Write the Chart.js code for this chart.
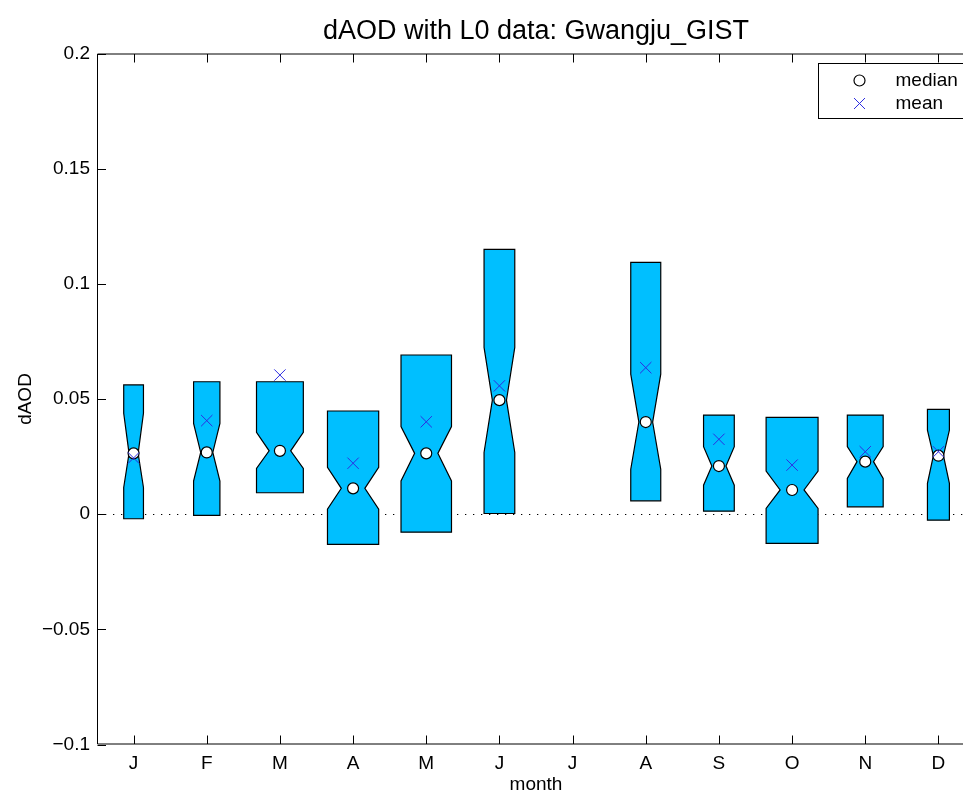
<!DOCTYPE html>
<html>
<head>
<meta charset="utf-8">
<script src="https://cdn.jsdelivr.net/npm/chart.js@4.4.0/dist/chart.umd.min.js"></script>
<style>
  html, body { margin: 0; padding: 0; background: #fff; overflow: hidden; }
  #wrap { width: 963px; height: 793px; overflow: hidden; position: relative; }
  canvas { display: block; }
</style>
</head>
<body>
<div id="wrap"><canvas id="c" width="975" height="793"></canvas></div>
<script>
// Monthly dAOD statistics (July has no data)
const months   = ['J', 'F', 'M', 'A', 'M', 'J', 'J', 'A', 'S', 'O', 'N', 'D'];
const q3       = [0.0561, 0.0575, 0.0575, 0.0448, 0.0691, 0.1150, null, 0.1093, 0.0430, 0.0420, 0.0430, 0.0455];
const q1       = [-0.0020, -0.0005, 0.0093, -0.0131, -0.0078, 0.0003, null, 0.0058, 0.0013, -0.0127, 0.0032, -0.0026];
const notchHi  = [0.0438, 0.0394, 0.0355, 0.0203, 0.0380, 0.0724, null, 0.0608, 0.0293, 0.0187, 0.0293, 0.0365];
const notchLo  = [0.0116, 0.0144, 0.0199, 0.0022, 0.0144, 0.0268, null, 0.0195, 0.0126, 0.0025, 0.0155, 0.0134];
const medians  = [0.0264, 0.0268, 0.0275, 0.0112, 0.0264, 0.0495, null, 0.0400, 0.0209, 0.0105, 0.0228, 0.0254];
const means    = [0.0244, 0.0406, 0.0604, 0.0221, 0.0401, 0.0557, null, 0.0636, 0.0325, 0.0213, 0.0271, 0.0271];
// relative box width (in month units), proportional to sample size
const boxWidth = [0.27, 0.36, 0.64, 0.70, 0.69, 0.42, null, 0.41, 0.42, 0.71, 0.49, 0.30];

const yTickValues = [-0.1, -0.05, 0, 0.05, 0.1, 0.15, 0.2];
const yTickLabels = ['\u22120.1', '\u22120.05', '0', '0.05', '0.1', '0.15', '0.2'];

const FONT = "'Liberation Sans', Arial, Helvetica, sans-serif";
const BOX_FILL = '#00bfff';
const MEAN_COLOR = 'rgb(45,45,225)';
const NOTCH = 0.46;
const TICK_LEN = 8.5;

Chart.defaults.color = '#000';
Chart.defaults.font.family = FONT;

function points(values) {
  const out = [];
  values.forEach((v, i) => { if (v != null) out.push({ x: i + 1, y: v }); });
  return out;
}

const boxPlugin = {
  id: 'notchedBoxes',
  beforeDatasetsDraw(chart) {
    const { ctx, chartArea: a, scales: { x, y } } = chart;
    ctx.save();
    ctx.beginPath();
    ctx.rect(a.left, a.top, a.right - a.left, a.bottom - a.top);
    ctx.clip();

    // dotted zero line
    const y0 = Math.round(y.getPixelForValue(0)) + 0.5;
    ctx.setLineDash([1.3, 6.7]);
    ctx.strokeStyle = '#000';
    ctx.lineWidth = 1;
    ctx.beginPath();
    ctx.moveTo(a.left, y0);
    ctx.lineTo(a.right, y0);
    ctx.stroke();
    ctx.setLineDash([]);

    // notched boxes
    months.forEach((m, i) => {
      if (q3[i] == null) return;
      const xc = x.getPixelForValue(i + 1);
      const hw = (x.getPixelForValue(i + 1 + boxWidth[i] / 2) - x.getPixelForValue(i + 1 - boxWidth[i] / 2)) / 2;
      const nw = hw * NOTCH;
      const py = v => y.getPixelForValue(v);
      ctx.beginPath();
      ctx.moveTo(xc - hw, py(q1[i]));
      ctx.lineTo(xc - hw, py(notchLo[i]));
      ctx.lineTo(xc - nw, py(medians[i]));
      ctx.lineTo(xc - hw, py(notchHi[i]));
      ctx.lineTo(xc - hw, py(q3[i]));
      ctx.lineTo(xc + hw, py(q3[i]));
      ctx.lineTo(xc + hw, py(notchHi[i]));
      ctx.lineTo(xc + nw, py(medians[i]));
      ctx.lineTo(xc + hw, py(notchLo[i]));
      ctx.lineTo(xc + hw, py(q1[i]));
      ctx.closePath();
      ctx.fillStyle = BOX_FILL;
      ctx.fill();
      ctx.strokeStyle = '#000';
      ctx.lineWidth = 1.2;
      ctx.lineJoin = 'miter';
      ctx.stroke();
    });
    ctx.restore();
  },
  afterDraw(chart) {
    const { ctx, chartArea: a, scales: { x, y } } = chart;
    ctx.save();
    ctx.strokeStyle = '#000';
    ctx.lineWidth = 1;
    const L = a.left + 0.5, R = a.right - 0.5, T = a.top + 0.5, B = a.bottom - 0.5;

    // axes frame
    ctx.beginPath();
    ctx.moveTo(L, T); ctx.lineTo(R, T); ctx.lineTo(R, B); ctx.lineTo(L, B); ctx.closePath();
    ctx.stroke();

    // inward tick marks
    ctx.beginPath();
    months.forEach((m, i) => {
      const px = Math.round(x.getPixelForValue(i + 1)) + 0.5;
      ctx.moveTo(px, B); ctx.lineTo(px, B - TICK_LEN);
      ctx.moveTo(px, T); ctx.lineTo(px, T + TICK_LEN);
    });
    yTickValues.forEach(v => {
      const py = Math.round(y.getPixelForValue(v)) + 0.5;
      ctx.moveTo(L, py); ctx.lineTo(L + TICK_LEN, py);
      ctx.moveTo(R, py); ctx.lineTo(R - TICK_LEN, py);
    });
    ctx.stroke();

    // legend
    const lw = 148, lh = 55;
    const lx = Math.round(a.right - 9 - lw) + 0.5;
    const ly = Math.round(a.top + 9) + 0.5;
    ctx.fillStyle = '#fff';
    ctx.fillRect(lx, ly, lw, lh);
    ctx.strokeRect(lx, ly, lw, lh);

    const mx = lx + 41;
    const r1 = ly + 17, r2 = ly + 40;
    ctx.beginPath();
    ctx.arc(mx, r1, 5.5, 0, Math.PI * 2);
    ctx.fillStyle = '#fff';
    ctx.fill();
    ctx.lineWidth = 1.2;
    ctx.stroke();

    ctx.strokeStyle = MEAN_COLOR;
    ctx.lineWidth = 1;
    ctx.beginPath();
    ctx.moveTo(mx - 5.5, r2 - 5.5); ctx.lineTo(mx + 5.5, r2 + 5.5);
    ctx.moveTo(mx - 5.5, r2 + 5.5); ctx.lineTo(mx + 5.5, r2 - 5.5);
    ctx.stroke();

    ctx.fillStyle = '#000';
    ctx.font = '19px ' + FONT;
    ctx.textAlign = 'left';
    ctx.textBaseline = 'middle';
    ctx.fillText(chart.data.datasets[0].label, lx + 77, r1);
    ctx.fillText(chart.data.datasets[1].label, lx + 77, r2);
    ctx.restore();
  }
};

new Chart(document.getElementById('c'), {
  type: 'scatter',
  data: {
    datasets: [
      {
        label: 'median',
        data: points(medians),
        pointStyle: 'circle',
        radius: 5.5,
        backgroundColor: '#fff',
        borderColor: '#000',
        borderWidth: 1.2,
        order: 2
      },
      {
        label: 'mean',
        data: points(means),
        pointStyle: 'crossRot',
        radius: 8,
        borderColor: MEAN_COLOR,
        backgroundColor: MEAN_COLOR,
        borderWidth: 1,
        order: 1
      }
    ]
  },
  options: {
    responsive: false,
    animation: false,
    devicePixelRatio: 1,
    events: [],
    layout: { padding: 0, autoPadding: false },
    plugins: {
      legend: { display: false },
      tooltip: { enabled: false },
      title: {
        display: true,
        fullSize: false,
        text: 'dAOD with L0 data: Gwangju_GIST',
        color: '#000',
        font: { family: FONT, size: 27, weight: 'normal', lineHeight: 1.2 },
        padding: { top: 15.8, bottom: 5.3 }
      }
    },
    scales: {
      x: {
        type: 'linear',
        min: 0.5,
        max: 12.5,
        grid: { display: false, drawTicks: false },
        border: { display: false },
        afterBuildTicks: axis => { axis.ticks = months.map((m, i) => ({ value: i + 1 })); },
        afterFit: axis => { axis.height = 48.5; axis.paddingLeft = 0; axis.paddingRight = 0; },
        ticks: {
          autoSkip: false,
          maxRotation: 0,
          minRotation: 0,
          padding: 8,
          font: { family: FONT, size: 19 },
          callback: (v, idx) => months[idx]
        },
        title: {
          display: true,
          text: 'month',
          font: { family: FONT, size: 19, lineHeight: 0.85 },
          padding: { top: 0, bottom: 0 }
        }
      },
      y: {
        type: 'linear',
        min: -0.1,
        max: 0.2,
        grid: { display: false, drawTicks: false },
        border: { display: false },
        afterBuildTicks: axis => { axis.ticks = yTickValues.map(v => ({ value: v })); },
        afterFit: axis => { axis.width = 97; axis.paddingTop = 0; axis.paddingBottom = 0; },
        ticks: {
          padding: 7,
          font: { family: FONT, size: 19 },
          callback: (v) => yTickLabels[yTickValues.indexOf(v)]
        },
        title: {
          display: true,
          text: 'dAOD',
          font: { family: FONT, size: 19, lineHeight: 1.2 },
          padding: { top: 14.5, bottom: 0 }
        }
      }
    }
  },
  plugins: [boxPlugin]
});
</script>
</body>
</html>
